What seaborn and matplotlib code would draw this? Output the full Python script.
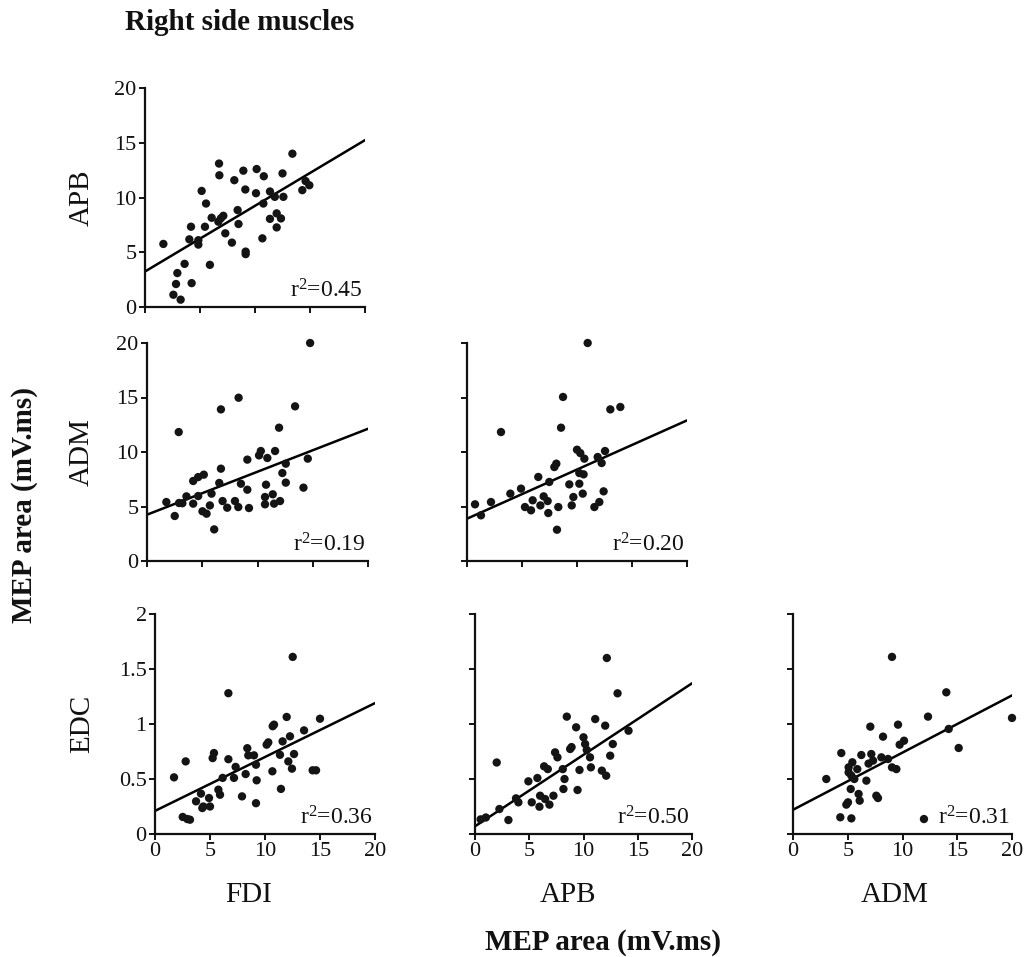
import numpy as np
import pandas as pd
import matplotlib
matplotlib.use("Agg")
import matplotlib.pyplot as plt
import seaborn as sns

# ---------------- data ----------------
# Panel: APB (y) vs FDI (x)
apb_fdi_x = [1.67, 2.94, 2.82, 2.58, 3.24, 3.6, 4.24, 4.18, 4.03, 4.85, 4.85, 5.15, 5.55, 5.45,
             5.9, 6.06, 6.73, 6.76, 6.67, 7.12, 7.3, 7.9, 8.12, 8.42, 8.5, 9.12, 9.15, 9.15, 8.94,
             10.15, 10.8, 10.09, 10.67, 10.76, 11.36, 11.36, 11.97, 11.97, 12.36, 11.8, 12.58,
             12.5, 13.4, 14.3, 14.94, 14.6, 6.9]
apb_fdi_y = [5.76, 3.1, 2.1, 1.12, 0.67, 3.94, 2.18, 7.33, 6.18, 6.1, 5.7, 10.6, 9.45, 7.33,
             3.85, 8.15, 13.1, 12.03, 7.79, 8.33, 6.73, 5.88, 11.58, 8.85, 7.58, 10.73, 5.06, 4.83,
             12.45, 12.6, 11.94, 10.39, 6.27, 9.45, 10.55, 8.05, 8.55, 7.27, 8.09, 10.06, 10.06,
             12.2, 14.0, 10.67, 11.12, 11.5, 8.1]

# Panel: ADM (y) vs FDI (x)
adm_fdi_x = [14.76, 2.87, 2.51, 1.75, 2.9, 3.57, 4.18, 4.63, 5.14, 4.18, 4.63, 5.02, 5.39, 5.69,
             5.84, 6.08, 6.69, 6.69, 6.54, 6.84, 7.26, 7.96, 8.26, 8.29, 8.5, 9.08, 9.08, 9.23,
             10.14, 10.3, 10.89, 11.59, 10.77, 10.68, 10.68, 11.38, 11.5, 12.04, 11.95, 12.25,
             12.56, 12.56, 13.4, 14.16, 14.55, 3.2]
adm_fdi_y = [20.0, 11.83, 4.13, 5.41, 5.32, 5.93, 7.34, 7.7, 7.92, 5.26, 5.96, 4.56, 4.34, 5.1,
             6.18, 2.9, 13.91, 8.47, 7.16, 5.5, 4.89, 5.5, 4.95, 14.98, 7.09, 6.54, 9.3, 4.86,
             9.69, 10.09, 9.45, 10.09, 7.0, 5.87, 5.2, 6.12, 5.26, 5.5, 12.23, 8.07, 8.93, 7.19,
             14.19, 6.73, 9.39, 5.3]

# Panel: ADM (y) vs APB (x)
adm_apb_x = [0.73, 1.27, 2.18, 3.09, 3.94, 4.91, 5.27, 5.82, 5.97, 6.48, 6.67, 6.97, 7.33, 7.39,
             7.48, 7.94, 8.12, 8.18, 8.3, 8.55, 8.73, 9.3, 9.52, 9.67, 10.0, 10.21, 10.21, 10.52,
             10.6, 10.67, 10.97, 11.58, 12.03, 11.88, 12.24, 12.42, 12.55, 13.03, 13.94, 10.3]
adm_apb_y = [5.2, 4.19, 5.41, 11.83, 6.18, 6.64, 4.95, 4.65, 5.57, 7.71, 5.1, 5.93, 5.5, 4.4,
             7.25, 8.62, 8.93, 2.87, 4.95, 12.23, 15.05, 7.03, 5.1, 5.87, 10.21, 8.07, 7.09, 6.18,
             7.95, 9.39, 20.0, 4.95, 5.41, 9.54, 8.99, 6.39, 10.09, 13.91, 14.13, 9.9]

# Panel: EDC (y) vs FDI (x)
edc_fdi_x = [1.73, 2.79, 2.52, 2.94, 3.18, 4.18, 3.73, 4.39, 4.91, 5.0, 4.3, 5.24, 5.36, 5.76,
             5.91, 6.15, 6.67, 6.67, 7.18, 7.33, 7.91, 8.24, 8.39, 8.48, 9.0, 9.18, 9.24, 9.18,
             10.15, 10.3, 10.67, 10.7, 10.82, 11.36, 11.45, 11.6, 11.97, 12.12, 12.27, 12.45,
             12.52, 12.64, 13.55, 14.33, 14.64, 15.0]
edc_fdi_y = [0.515, 0.66, 0.155, 0.136, 0.13, 0.367, 0.297, 0.25, 0.327, 0.25, 0.236, 0.69, 0.736,
             0.403, 0.357, 0.51, 1.28, 0.68, 0.51, 0.61, 0.342, 0.545, 0.78, 0.715, 0.715, 0.63,
             0.488, 0.28, 0.812, 0.833, 0.57, 0.98, 0.994, 0.72, 0.41, 0.842, 1.064, 0.66, 0.888,
             0.594, 1.61, 0.727, 0.942, 0.579, 0.579, 1.048]

# Panel: EDC (y) vs APB (x)
edc_apb_x = [0.52, 1.0, 2.25, 2.0, 3.08, 3.78, 4.0, 4.92, 5.23, 5.75, 5.94, 6.0, 6.37, 6.46, 6.86,
             6.71, 7.23, 7.38, 7.6, 8.09, 8.15, 8.25, 8.46, 8.77, 9.32, 9.45, 9.63, 10.0, 10.15,
             10.3, 10.6, 10.68, 11.08, 11.69, 12.09, 12.0, 12.15, 12.46, 12.7, 13.14, 14.15, 8.9]
edc_apb_y = [0.133, 0.15, 0.227, 0.65, 0.127, 0.324, 0.288, 0.479, 0.288, 0.509, 0.248, 0.348,
             0.615, 0.318, 0.267, 0.59, 0.348, 0.742, 0.697, 0.59, 0.409, 0.5, 1.067, 0.773, 0.97,
             0.4, 0.582, 0.879, 0.818, 0.764, 0.697, 0.606, 1.045, 0.576, 0.53, 0.985, 1.6, 0.712,
             0.818, 1.279, 0.939, 0.79]

# Panel: EDC (y) vs ADM (x)
edc_adm_x = [3.04, 4.41, 4.32, 5.33, 4.87, 5.02, 5.27, 5.08, 5.08, 5.42, 5.33, 5.87, 5.99, 6.09,
             6.24, 6.7, 7.06, 7.15, 7.31, 7.61, 7.76, 8.07, 8.22, 8.68, 9.04, 9.04, 9.44, 9.59,
             9.74, 10.14, 11.96, 12.33, 14.0, 14.22, 15.13, 20.0, 6.9, 5.6]
edc_adm_y = [0.5, 0.736, 0.152, 0.142, 0.267, 0.288, 0.409, 0.56, 0.606, 0.652, 0.53, 0.59, 0.364,
             0.303, 0.718, 0.485, 0.976, 0.727, 0.667, 0.348, 0.327, 0.697, 0.885, 0.682, 1.61,
             0.606, 0.59, 0.994, 0.812, 0.848, 0.136, 1.067, 1.288, 0.955, 0.782, 1.055, 0.64, 0.5]

# regression lines (intercept, slope) and r² values
fit_intercepts = [3.24, 4.25, 3.88, 0.21, 0.07, 0.22]
fit_slopes = [0.60, 0.394, 0.451, 0.049, 0.065, 0.052]
r2_values = ["0.45", "0.19", "0.20", "0.36", "0.50", "0.31"]

row_names = ["APB", "ADM", "EDC"]
col_names = ["FDI", "APB", "ADM"]
title = "Right side muscles"
common_label = "MEP area (mV.ms)"
yticks_big = [0, 5, 10, 15, 20]
yticklabels_big = ["0", "5", "10", "15", "20"]
yticks_edc = [0, 0.5, 1, 1.5, 2]
yticklabels_edc = ["0", "0.5", "1", "1.5", "2"]
xticks = [0, 5, 10, 15, 20]
xticklabels = ["0", "5", "10", "15", "20"]

# ---------------- figure ----------------
sns.set_style("ticks")
plt.rcParams["font.family"] = ["Liberation Serif", "DejaVu Serif"]
plt.rcParams["mathtext.fontset"] = "custom"
plt.rcParams["mathtext.rm"] = "Liberation Serif"
plt.rcParams["mathtext.it"] = "Liberation Serif"
plt.rcParams["mathtext.bf"] = "Liberation Serif:bold"

W, H = 1024, 957
fig = plt.figure(figsize=(W / 100, H / 100), dpi=100)

def axes_px(x0, x1, y0, y1):
    return fig.add_axes([x0 / W, 1 - y0 / H, (x1 - x0) / W, (y0 - y1) / H])

panels = [
    dict(pos=(145, 365, 307, 88), x=apb_fdi_x, y=apb_fdi_y, ymax=20, edc=False, xlab=False, ylab=True),
    dict(pos=(147, 368, 561, 343), x=adm_fdi_x, y=adm_fdi_y, ymax=20, edc=False, xlab=False, ylab=True),
    dict(pos=(467, 687, 561, 343), x=adm_apb_x, y=adm_apb_y, ymax=20, edc=False, xlab=False, ylab=False),
    dict(pos=(155, 375, 834, 614), x=edc_fdi_x, y=edc_fdi_y, ymax=2, edc=True, xlab=True, ylab=True),
    dict(pos=(475, 692, 834, 614), x=edc_apb_x, y=edc_apb_y, ymax=2, edc=True, xlab=True, ylab=False),
    dict(pos=(793, 1012, 834, 614), x=edc_adm_x, y=edc_adm_y, ymax=2, edc=True, xlab=True, ylab=False),
]

for i, p in enumerate(panels):
    ax = axes_px(*p["pos"])
    df = pd.DataFrame({"x": p["x"], "y": p["y"]})
    sns.scatterplot(data=df, x="x", y="y", ax=ax, color="#141414", s=36,
                    edgecolor="none", linewidth=0, clip_on=False, zorder=3)
    lx = np.array([0.0, 20.0])
    ly = fit_intercepts[i] + fit_slopes[i] * lx
    sns.lineplot(x=lx, y=ly, ax=ax, color="black", linewidth=1.8, zorder=2)
    ax.set_xlim(0, 20)
    ax.set_ylim(0, p["ymax"])
    ax.set_xticks(xticks)
    if p["edc"]:
        ax.set_yticks(yticks_edc)
        ylabs = yticklabels_edc
    else:
        ax.set_yticks(yticks_big)
        ylabs = yticklabels_big
    ax.set_xticklabels(xticklabels if p["xlab"] else [])
    ax.set_yticklabels(ylabs if p["ylab"] else [])
    ax.set_xlabel("")
    ax.set_ylabel("")
    sns.despine(ax=ax)
    for s in ["left", "bottom"]:
        ax.spines[s].set_linewidth(1.6)
        ax.spines[s].set_color("#111111")
    ax.tick_params(axis="both", direction="out", length=4, width=1.4,
                   labelsize=16, colors="#111111", pad=2)
    ax.patch.set_alpha(0)
    ax.text(0.99, 0.02, r"$\mathrm{r}^{2}$=" + r2_values[i], transform=ax.transAxes,
            ha="right", va="bottom", fontsize=17, color="#111111")

# row labels
for name, yc in zip(row_names, [198, 452, 724]):
    fig.text(82 / W, 1 - yc / H, name, rotation=90, ha="center", va="center",
             fontsize=21, color="#111111")
# column labels
for name, xc in zip(col_names, [249, 568, 895]):
    fig.text(xc / W, 1 - 895 / H, name, ha="center", va="center", fontsize=21, color="#111111")

fig.text(603 / W, 1 - 942 / H, common_label, ha="center", va="center", fontsize=21,
         fontweight="bold", color="#111111")
fig.text(25 / W, 1 - 505 / H, common_label, rotation=90, ha="center", va="center",
         fontsize=21, fontweight="bold", color="#111111")
fig.text(240 / W, 1 - 22 / H, title, ha="center", va="center", fontsize=21,
         fontweight="bold", color="#111111")

fig.savefig("out.png", dpi=100, facecolor="white")
